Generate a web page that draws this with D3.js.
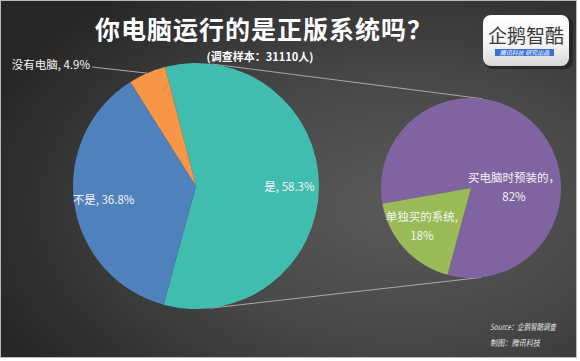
<!DOCTYPE html>
<html><head><meta charset="utf-8">
<script src="https://cdn.jsdelivr.net/npm/d3@7"></script>
<style>
html,body{margin:0;padding:0;background:#fff;}
svg{display:block;}
text{font-family:"Noto Sans CJK SC","Noto Sans",sans-serif;}
</style></head>
<body>
<script>
// ---- data ----
const mainCategories = ["是", "不是", "没有电脑"];
const mainValues = [58.3, 36.8, 4.9];
const subCategories = ["买电脑时预装的，", "单独买的系统,"];
const subValues = [82, 18];
const titleText = "你电脑运行的是正版系统吗？";
const subtitleText = "(调查样本：31110人)";
const sourceLines = ["Source：企鹅智酷调查", "制图：腾讯科技"];

// ---- styling / layout ----
const W = 580, H = 361;
const mainColors = ["#41bdb0", "#4f81bd", "#f79646"];
const subColors = ["#8064a2", "#9bbb59"];
const mainC = {x: 196, y: 186, r: 123};
const subC = {x: 471, y: 188, r: 90};
const deg = Math.PI / 180;

const svg = d3.select("body").append("svg").attr("width", W).attr("height", H);
const defs = svg.append("defs");
const bg = defs.append("radialGradient").attr("id", "bg")
  .attr("cx", 0.70).attr("cy", 0.58).attr("r", 0.78);
bg.append("stop").attr("offset", "0%").attr("stop-color", "#5a5a5a");
bg.append("stop").attr("offset", "50%").attr("stop-color", "#464646");
bg.append("stop").attr("offset", "100%").attr("stop-color", "#262626");
const lg = defs.append("linearGradient").attr("id", "logo").attr("x1", 0).attr("y1", 0).attr("x2", 0).attr("y2", 1);
lg.append("stop").attr("offset", "0%").attr("stop-color", "#ffffff");
lg.append("stop").attr("offset", "60%").attr("stop-color", "#f2f2f2");
lg.append("stop").attr("offset", "100%").attr("stop-color", "#d8d8d8");

svg.append("rect").attr("x", 0.5).attr("y", 0.5).attr("width", 576).attr("height", 357)
  .attr("fill", "url(#bg)").attr("stroke", "#b8b8b8");

// ---- connector lines (external tangents of two pies) ----
{
  const dx = subC.x - mainC.x, dy = subC.y - mainC.y;
  const d = Math.hypot(dx, dy);
  const base = Math.atan2(dy, dx);
  const phi = Math.acos((mainC.r - subC.r) / d);
  [base - phi, base + phi].forEach(a => {
    svg.append("line")
      .attr("x1", mainC.x + mainC.r * Math.cos(a)).attr("y1", mainC.y + mainC.r * Math.sin(a))
      .attr("x2", subC.x + subC.r * Math.cos(a)).attr("y2", subC.y + subC.r * Math.sin(a))
      .attr("stroke", "#a8a8a8").attr("stroke-width", 1);
  });
}

// ---- main pie ----
const mainPie = d3.pie().sort(null).startAngle(-14.6 * deg).endAngle(345.4 * deg);
const mainArcs = mainPie(mainValues);
const arcMain = d3.arc().innerRadius(0).outerRadius(mainC.r);
const gMain = svg.append("g").attr("transform", `translate(${mainC.x},${mainC.y})`);
gMain.selectAll("path").data(mainArcs).enter().append("path")
  .attr("d", arcMain).attr("fill", (d, i) => mainColors[i]);

const labelArc = d3.arc().innerRadius(mainC.r * 0.76).outerRadius(mainC.r * 0.76);
const fs = 11.5;
mainArcs.forEach((a, i) => {
  const txt = `${mainCategories[i]}, ${mainValues[i]}%`;
  if (i < 2) {
    const [x, y] = labelArc.centroid(a);
    gMain.append("text").attr("x", x).attr("y", y).attr("dy", "0.35em")
      .attr("text-anchor", "middle").attr("fill", "#f4f4f4").attr("font-size", fs).text(txt);
  } else {
    const mid = (a.startAngle + a.endAngle) / 2;
    const ex = Math.sin(mid) * mainC.r, ey = -Math.cos(mid) * mainC.r;
    const lx = 92 - mainC.x, ly = 67 - mainC.y;
    gMain.append("line").attr("x1", lx).attr("y1", ly).attr("x2", ex).attr("y2", ey)
      .attr("stroke", "#a8a8a8").attr("stroke-width", 1);
    gMain.append("text").attr("x", lx - 2).attr("y", ly - 2).attr("dy", "0.35em")
      .attr("text-anchor", "end").attr("fill", "#f4f4f4").attr("font-size", fs).text(txt);
  }
});

// ---- secondary pie ----
const subPie = d3.pie().sort(null).startAngle(260 * deg).endAngle(620 * deg);
const subArcs = subPie(subValues);
const arcSub = d3.arc().innerRadius(0).outerRadius(subC.r);
const gSub = svg.append("g").attr("transform", `translate(${subC.x},${subC.y})`);
gSub.selectAll("path").data(subArcs).enter().append("path")
  .attr("d", arcSub).attr("fill", (d, i) => subColors[i]);
const subLabelPos = [
  (a) => [43, -10],
  (a) => d3.arc().innerRadius(subC.r * 0.65).outerRadius(subC.r * 0.65).centroid(a).map((v, k) => k ? v - 10 : v - 6)
];
subArcs.forEach((a, i) => {
  const [x, y] = subLabelPos[i](a);
  const t = gSub.append("text").attr("text-anchor", "middle").attr("fill", "#f4f4f4").attr("font-size", fs);
  t.append("tspan").attr("x", x).attr("y", y).attr("dy", "0.35em").text(subCategories[i]);
  t.append("tspan").attr("x", x).attr("y", y + 19).attr("dy", "0.35em").text(`${subValues[i]}%`);
});

// ---- titles ----
svg.append("text").attr("x", 264).attr("y", 30).attr("dy", "0.35em").attr("text-anchor", "middle")
  .attr("fill", "#ffffff").attr("font-size", 25).attr("font-weight", "bold")
  .attr("letter-spacing", 1).text(titleText);
svg.append("text").attr("x", 260).attr("y", 57).attr("dy", "0.35em").attr("text-anchor", "middle")
  .attr("fill", "#ffffff").attr("font-size", 11).attr("font-weight", "bold").text(subtitleText);

// ---- logo ----
const lgG = svg.append("g");
lgG.append("rect").attr("x", 485).attr("y", 17).attr("width", 88).attr("height", 52).attr("rx", 8)
  .attr("fill", "#1a1a1a").attr("opacity", 0.6);
lgG.append("rect").attr("x", 483).attr("y", 15).attr("width", 86).attr("height", 51).attr("rx", 8)
  .attr("fill", "url(#logo)");
lgG.append("text").attr("x", 526).attr("y", 36).attr("dy", "0.35em").attr("text-anchor", "middle")
  .attr("fill", "#3a3a3a").attr("font-size", 19).text("企鹅智酷");
lgG.append("rect").attr("x", 495).attr("y", 49).attr("width", 59).attr("height", 7).attr("fill", "#3d6fd6");
lgG.append("text").attr("x", 524.5).attr("y", 52.5).attr("dy", "0.35em").attr("text-anchor", "middle")
  .attr("fill", "#ffffff").attr("font-size", 6).attr("font-style", "italic").text("腾讯科技  研究出品");

// ---- source ----
const sourceWidths = [66, 50];
sourceLines.forEach((s, i) => {
  svg.append("text").attr("x", 490).attr("y", 327 + i * 16).attr("dy", "0.35em")
    .attr("fill", "#e0e0e0").attr("font-size", 8.5).attr("font-style", "italic")
    .attr("textLength", sourceWidths[i]).attr("lengthAdjust", "spacingAndGlyphs").text(s);
});
</script>
</body></html>
